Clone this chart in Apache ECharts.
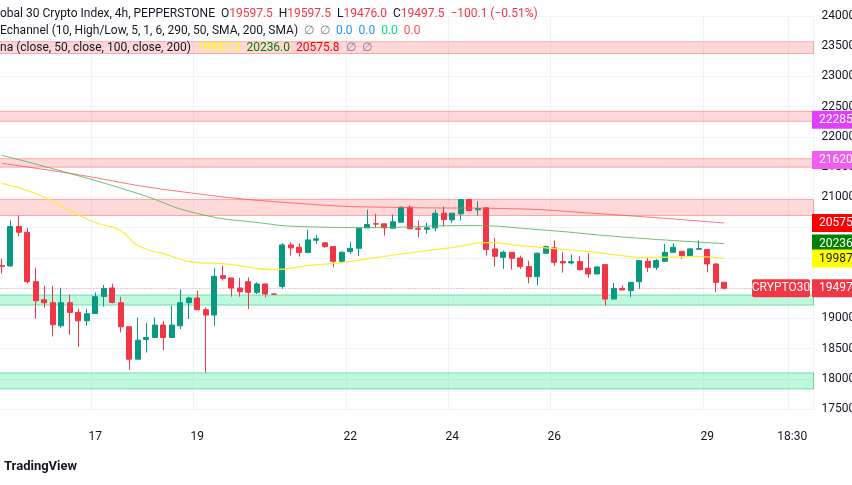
<!DOCTYPE html>
<html><head><meta charset="utf-8">
<script src="https://cdn.jsdelivr.net/npm/echarts@6/dist/echarts.min.js"></script>
<style>html,body{margin:0;padding:0;background:#fff}#c{width:852px;height:485px}</style>
</head><body><div id="c"></div>
<script>
// OHLC per 4h candle (index 0..85)
const opens  = [19871,19866,20518,20423,19606,19308,19258,18877,19258,19097,18959,19080,19362,19502,19258,18860,18324,18649,18683,18888,18683,18877,19258,19336,19142,19054,19705,19667,19501,19606,19429,19568,19402,19528,20214,20175,20087,20291,20248,20186,19943,20103,20158,20496,20563,20563,20490,20589,20838,20490,20473,20496,20738,20629,20728,20966,20795,20828,20148,20009,20092,19999,19855,19689,20075,20165,19938,19916,19938,19827,19734,19888,19318,19495,19457,19606,19943,19843,19943,20092,20109,20037,20142,20137,19899,19597.5];
const closes = [19860,20518,20423,19606,19291,19258,18893,19258,19097,18959,19075,19357,19495,19263,18860,18324,18639,18683,18888,18683,18888,19258,19336,19142,19054,19694,19661,19501,19440,19429,19568,19402,19399,20214,20165,20087,20297,20314,20186,19943,20092,20158,20490,20551,20559,20496,20596,20838,20480,20473,20496,20738,20632,20738,20966,20783,20816,20137,20026,20092,19993,19855,19689,20075,20186,19926,19916,19938,19805,19734,19850,19318,19495,19468,19595,19954,19843,19954,20092,20175,20037,20148,20153,19899,19594,19497.5];
const highs  = [19987,20617,20700,20496,19838,19540,19540,19507,19391,19158,19158,19429,19551,19573,19357,18860,19014,18926,19014,18959,19209,19479,19357,19457,19180,19826,19871,19672,19667,19677,19595,19573,19410,20241,20257,20241,20463,20380,20257,20186,20109,20269,20496,20795,20728,20563,20717,20850,20866,20617,20579,20795,20850,20738,20966,20966,20937,20828,20330,20120,20092,20037,19954,20092,20203,20286,20092,20054,20025,20075,19855,19888,19584,19545,19595,19954,20015,19982,20231,20241,20109,20165,20286,20137,19910,19597.5];
const lows   = [19739,19855,20357,19578,18993,19175,18699,18843,18727,18528,18877,19075,19196,19247,18765,18147,18324,18434,18678,18474,18678,18821,18988,19142,18102,18877,19623,19357,19357,19153,19402,19346,19395,19485,20037,20021,20087,20231,20165,19843,19921,20065,20032,20496,20506,20368,20490,20589,20480,20341,20397,20440,20518,20573,20617,20783,20700,20037,19855,19817,19805,19817,19578,19544,20075,19871,19755,19888,19788,19671,19734,19208,19318,19468,19346,19485,19767,19799,19943,20092,19982,20037,20137,19760,19429,19476];
// Moving averages read at sampled candles
const sma50Pts  = [[0,21231],[4,21065],[8,20783],[11,20584],[14,20452],[16,20203],[19,20070],[23,19921],[26,19904],[32,19805],[36,19871],[40,19921],[44,20004],[50,20120],[53,20170],[57,20253],[61,20203],[65,20153],[69,20103],[73,20037],[75,20004],[82,20020],[85,19987.3]];
const sma100Pts = [[0,21697],[8,21397],[16,21065],[23,20733],[31,20568],[35,20518],[43,20501],[55,20534],[63,20468],[74,20335],[85,20236.0]];
const sma200Pts = [[0,21563],[8,21397],[20,21115],[35,20899],[47,20833],[59,20816],[70,20733],[85,20575.8]];
// zones [low, high]
const redZones   = [[23380,23575],[22258,22424],[21501,21640],[20700,20966]];
const greenZones = [[19219,19385],[17832,18097]];
const yTicks = {min:17500, max:24000, step:500};
const slotCount = 96;
const dayLabels = {11:'17',23:'19',41:'22',53:'24',65:'26',83:'29',93:'18:30'};
const xLabels = Array.from({length:slotCount},(_,i)=>dayLabels[i]||'');

const ohlc = opens.map((o,i)=>[o,closes[i],lows[i],highs[i]]);
const toSeries = pts => { const a = new Array(slotCount).fill(null); pts.forEach(([i,v])=>a[i]=v); return a; };
const zoneArea = (z,fill,border) => z.map(([a,b])=>[{yAxis:a,itemStyle:{color:fill,borderColor:border,borderWidth:1}},{yAxis:b}]);

const chart = echarts.init(document.getElementById('c'));
const F = 'Roboto, "Noto Sans", sans-serif';
chart.setOption({
  animation:false, backgroundColor:'#fff',
  grid:{left:-2.5,right:38.5,top:16,bottom:76,outerBoundsMode:'none',containLabel:false},
  xAxis:{type:'category',data:xLabels,
    axisLine:{show:false},axisTick:{show:false},
    axisLabel:{color:'#131722',fontFamily:F,fontSize:12,margin:22,interval:0},
    splitLine:{show:true,interval:(i,v)=>v!=='',lineStyle:{color:'#f0f3fa'}}},
  yAxis:{type:'value',position:'right',min:yTicks.min,max:yTicks.max,interval:yTicks.step,
    axisLine:{show:false},axisTick:{show:false},
    axisLabel:{color:'#131722',fontFamily:F,fontSize:12,margin:8,formatter:v=>String(v)},
    splitLine:{lineStyle:{color:'#f0f3fa'}}},
  series:[
    {type:'line',data:[],markArea:{silent:true,data:zoneArea(redZones,'rgba(255,82,82,0.22)','rgba(255,82,82,0.45)').concat(zoneArea(greenZones,'rgba(0,230,118,0.25)','rgba(0,200,100,0.5)'))}},
    {type:'line',data:toSeries(sma200Pts),connectNulls:true,smooth:true,symbol:'none',lineStyle:{color:'#ff5252',width:1,opacity:0.8}},
    {type:'line',data:toSeries(sma100Pts),connectNulls:true,smooth:true,symbol:'none',lineStyle:{color:'#4caf50',width:1,opacity:0.8}},
    {type:'line',data:toSeries(sma50Pts),connectNulls:true,smooth:true,symbol:'none',lineStyle:{color:'#ffeb3b',width:1.2}},
    {type:'candlestick',data:ohlc,barWidth:'70%',
      itemStyle:{color:'#089981',color0:'#f23645',borderColor:'#089981',borderColor0:'#f23645'},
      markLine:{silent:true,symbol:'none',label:{show:false},lineStyle:{color:'#f23645',type:[1,2],width:1,opacity:0.45},data:[{yAxis:closes[closes.length-1]}]}}
  ]
});

const tags = [
  {v:22285,t:'22285',bg:'#e040fb',fg:'#fff'},
  {v:21620,t:'21620',bg:'#f25cf0',fg:'#fff'},
  {v:20575.8,t:'20575',bg:'#ff0000',fg:'#fff'},
  {v:20236.0,t:'20236',bg:'#008000',fg:'#fff'},
  {v:19987.3,t:'19987',bg:'#ffff00',fg:'#131722'},
  {v:19497.5,t:'19497',bg:'#f23645',fg:'#fff'}
];
const g = [];
tags.forEach(tg=>{
  const y = chart.convertToPixel({yAxisIndex:0},tg.v);
  g.push({type:'rect',shape:{x:812,y:y-9,width:40,height:18},style:{fill:tg.bg},z:100});
  g.push({type:'text',style:{x:819,y:y,text:tg.t,fill:tg.fg,font:'12px '+F,verticalAlign:'middle'},z:101});
});
const yc = chart.convertToPixel({yAxisIndex:0},19497.5);
g.push({type:'rect',shape:{x:752,y:yc-9,width:58,height:18,r:2},style:{fill:'#f23645'},z:100});
g.push({type:'text',style:{x:781,y:yc,text:'CRYPTO30',fill:'#fff',font:'12px '+F,align:'center',verticalAlign:'middle'},z:101});
const rich = {k:{fill:'#131722',font:'12px '+F},r:{fill:'#f23645',font:'12px '+F},b:{fill:'#2196f3',font:'12px '+F},
  gr:{fill:'#00e676',font:'12px '+F},rr:{fill:'#ff5252',font:'12px '+F},y:{fill:'#ffff00',font:'12px '+F},
  g2:{fill:'#008000',font:'12px '+F},r2:{fill:'#ff0000',font:'12px '+F},n:{fill:'#787b86',font:'12px '+F}};
g.push({type:'text',z:110,style:{x:0,y:14,verticalAlign:'middle',rich,text:'{k|obal 30 Crypto Index, 4h, PEPPERSTONE  O}{r|19597.5}{k|  H}{r|19597.5}{k|  L}{r|19476.0}{k|  C}{r|19497.5}{r|  −100.1 (−0.51%)}'}});
g.push({type:'text',z:110,style:{x:0,y:31,verticalAlign:'middle',rich,text:'{k|Echannel (10, High/Low, 5, 1, 6, 290, 50, SMA, 200, SMA)}{n|  ∅  ∅  }{b|0.0  0.0  }{gr|0.0  }{rr|0.0}'}});
g.push({type:'text',z:110,style:{x:0,y:48,verticalAlign:'middle',rich,text:'{k|na (close, 50, close, 100, close, 200)  }{y|19987.3  }{g2|20236.0  }{r2|20575.8}{n|  ∅  ∅}'}});
g.push({type:'text',z:110,style:{x:4,y:467,verticalAlign:'middle',text:'TradingView',fill:'#131722',font:'bold 13px '+F}});
chart.setOption({graphic:g});
</script></body></html>
